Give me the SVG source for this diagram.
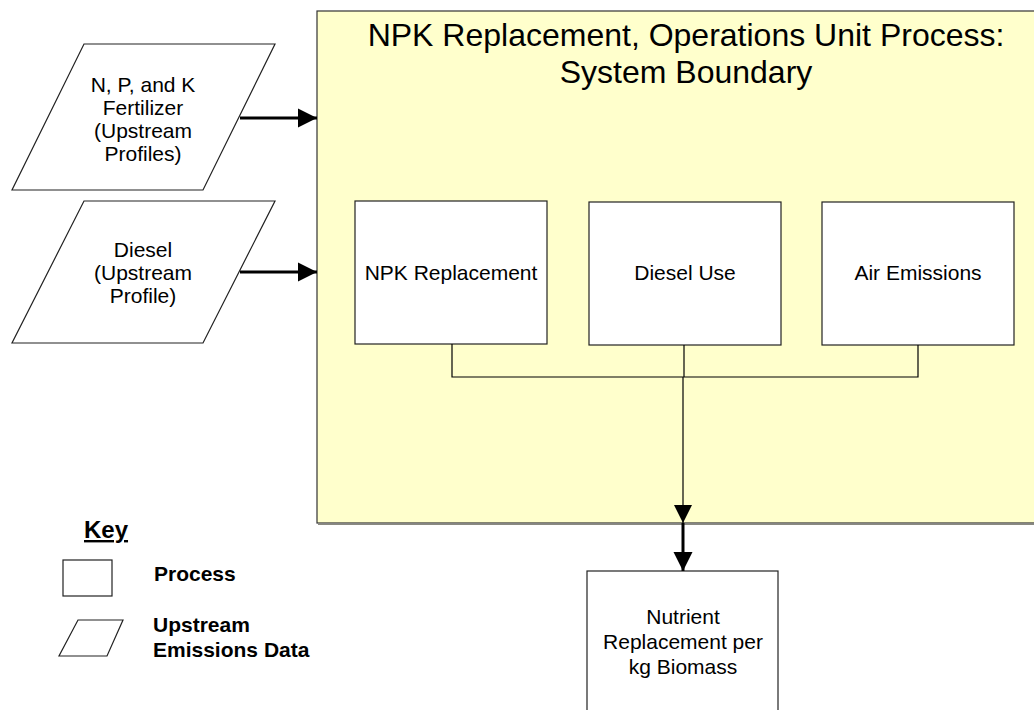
<svg xmlns="http://www.w3.org/2000/svg" width="1034" height="710" viewBox="0 0 1034 710">
  <defs>
    <marker id="headThick" viewBox="0 0 10 10" refX="10" refY="5" markerWidth="6.5" markerHeight="6.5" markerUnits="strokeWidth" orient="auto">
      <path d="M0,0 L10,5 L0,10 Z" fill="#000"/>
    </marker>
    <marker id="headThin" viewBox="0 0 10 10" refX="10" refY="5" markerWidth="15" markerHeight="16" markerUnits="strokeWidth" orient="auto">
      <path d="M0,0 L10,5 L0,10 Z" fill="#000"/>
    </marker>
    <style>
      .txt { font-family: "Liberation Sans", Arial, sans-serif; font-size: 21px; fill: #000; text-anchor: middle; }
      .title { font-size: 32px; }
      .key { font-family: "Liberation Sans", Arial, sans-serif; font-size: 21px; font-weight: bold; fill: #000; }
      .box { fill: #fff; stroke: #222; stroke-width: 1.2; }
      .shadow { fill: none; stroke: #8a8a80; stroke-width: 1.2; }
      .thin { fill: none; stroke: #000; stroke-width: 1.2; }
      .thick { fill: none; stroke: #000; stroke-width: 3; }
    </style>
  </defs>

  <rect width="1034" height="710" fill="#fff"/>

  <!-- system boundary -->
  <g id="boundary">
    <rect x="317" y="11" width="740" height="512" fill="#ffffcc" stroke="#333" stroke-width="1.2"/>
    <line x1="318" y1="524.5" x2="1034" y2="524.5" class="shadow"/>
    <text class="txt title" x="686" y="46">NPK Replacement, Operations Unit Process:</text>
    <text class="txt title" x="686" y="83">System Boundary</text>
  </g>

  <!-- upstream data inputs -->
  <g id="fertilizer">
    <polygon points="84,44 275,44 203,190 12,190" class="box"/>
    <text class="txt" x="143" y="92">N, P, and K</text>
    <text class="txt" x="143" y="115">Fertilizer</text>
    <text class="txt" x="143" y="138">(Upstream</text>
    <text class="txt" x="143" y="161">Profiles)</text>
  </g>
  <g id="diesel-upstream">
    <polygon points="84,201 275,201 203,343 12,343" class="box"/>
    <text class="txt" x="143" y="257">Diesel</text>
    <text class="txt" x="143" y="280">(Upstream</text>
    <text class="txt" x="143" y="303">Profile)</text>
  </g>

  <!-- unit processes -->
  <g id="npk-replacement">
    <rect x="355" y="201" width="192" height="143" class="box"/>
    <text class="txt" x="451" y="280">NPK Replacement</text>
  </g>
  <g id="diesel-use">
    <rect x="589" y="202" width="192" height="143" class="box"/>
    <text class="txt" x="685" y="280">Diesel Use</text>
  </g>
  <g id="air-emissions">
    <rect x="822" y="202" width="192" height="143" class="box"/>
    <text class="txt" x="918" y="280">Air Emissions</text>
  </g>

  <!-- output -->
  <g id="nutrient-replacement">
    <rect x="587" y="571" width="191" height="150" class="box"/>
    <text class="txt" x="683" y="624">Nutrient</text>
    <text class="txt" x="683" y="649">Replacement per</text>
    <text class="txt" x="683" y="674">kg Biomass</text>
  </g>

  <!-- key -->
  <g id="key">
    <text class="key" x="84" y="538" style="font-size:24px" text-decoration="underline">Key</text>
    <rect x="63" y="560" width="49" height="36" class="box"/>
    <text class="key" x="154" y="581">Process</text>
    <polygon points="78,620 123,620 107,656 59,656" class="box"/>
    <text class="key" x="153" y="632">Upstream</text>
    <text class="key" x="153" y="657">Emissions Data</text>
  </g>

  <!-- connectors -->
  <g id="connectors">
    <line x1="240" y1="118" x2="317" y2="118" class="thick" marker-end="url(#headThick)"/>
    <line x1="240" y1="272" x2="317" y2="272" class="thick" marker-end="url(#headThick)"/>
    <polyline points="452,344 452,377 918,377 918,345" class="thin"/>
    <line x1="684" y1="345" x2="684" y2="377" class="thin"/>
    <line x1="683" y1="377" x2="683" y2="523" class="thin" marker-end="url(#headThin)"/>
    <line x1="683" y1="523" x2="683" y2="571" class="thick" marker-end="url(#headThick)"/>
  </g>
</svg>
